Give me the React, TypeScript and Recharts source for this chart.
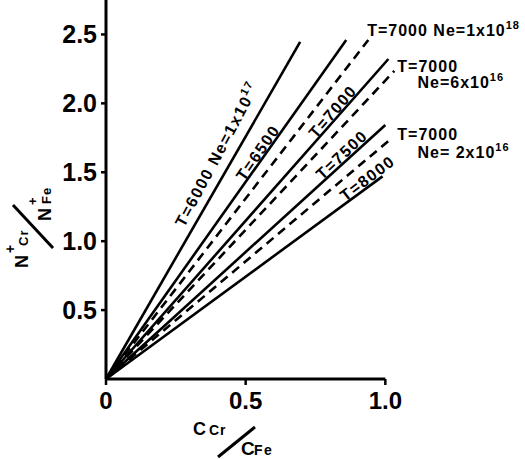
import React from 'react'
import { ComposedChart, Line, XAxis, YAxis, ReferenceDot, ReferenceLine } from 'recharts'

const FONT = '"Liberation Sans", Arial, sans-serif'

// every line starts at the origin, second point is where it ends on the plot
const t6000 = [{ x: 0, y: 0 }, { x: 0.695, y: 2.446 }]
const t6500 = [{ x: 0, y: 0 }, { x: 0.86, y: 2.46 }]
const ne1e18 = [{ x: 0, y: 0 }, { x: 0.939, y: 2.46 }]
const t7000 = [{ x: 0, y: 0 }, { x: 1.011, y: 2.322 }]
const ne6e16 = [{ x: 0, y: 0 }, { x: 1.032, y: 2.235 }]
const t7500 = [{ x: 0, y: 0 }, { x: 1.0, y: 1.843 }]
const ne2e16 = [{ x: 0, y: 0 }, { x: 1.024, y: 1.749 }]
const t8000 = [{ x: 0, y: 0 }, { x: 0.99, y: 1.47 }]

const xTicks = [0, 0.5, 1.0]
const yTicks = [0.5, 1.0, 1.5, 2.0, 2.5]

// text along the lines: [text, superscript, x, y, angle]
const slopeLabels: [string, string, number, number, number][] = [
  ['T=6000  Ne=1x10', '17', 0.28, 1.096, 62],
  ['T=6500', '', 0.495, 1.43, 55],
  ['T=7000', '', 0.752, 1.74, 49],
  ['T=7500', '', 0.774, 1.44, 43],
  ['T=8000', '', 0.857, 1.285, 37],
]

// text to the right of the dashed lines
const sideLabels: [string, string, number, number][] = [
  ['T=7000 Ne=1x10', '18', 0.935, 2.489],
  ['T=7000', '', 1.043, 2.228],
  ['Ne=6x10', '16', 1.115, 2.112],
  ['T=7000', '', 1.043, 1.734],
  ['Ne= 2x10', '16', 1.115, 1.604],
]

const solid = { stroke: '#000', strokeWidth: 2.6, dot: false, activeDot: false, isAnimationActive: false, type: 'linear' as const }
const dashed = { ...solid, strokeDasharray: '9 6' }

function XLabel(props: any) {
  const { x, y } = props.viewBox
  return (
    <g fontFamily={FONT} fontWeight="bold" fill="#000">
      <text x={x + 87} y={y + 56} fontSize={18}>C</text>
      <text x={x + 103} y={y + 56} fontSize={14} letterSpacing={1}>Cr</text>
      <line x1={x + 112} y1={y + 78} x2={x + 149} y2={y + 48} stroke="#000" strokeWidth={3} />
      <text x={x + 135} y={y + 76} fontSize={19}>C</text>
      <text x={x + 148} y={y + 76} fontSize={14} letterSpacing={1.5}>Fe</text>
    </g>
  )
}

function YLabel(props: any) {
  const { x, y } = props.viewBox
  return (
    <g fontFamily={FONT} fontWeight="bold" fill="#000">
      <g transform={`translate(${x} ${y}) rotate(-90)`}>
        <text x={-268} y={28} fontSize={18}>N</text>
        <text x={-253} y={15} fontSize={14}>+</text>
        <text x={-246} y={28} fontSize={13} letterSpacing={1}>Cr</text>
        <text x={-221} y={51} fontSize={18}>N</text>
        <text x={-205} y={37} fontSize={13}>+</text>
        <text x={-204} y={51} fontSize={13} letterSpacing={1}>Fe</text>
      </g>
      <line x1={x + 13} y1={y + 205} x2={x + 53} y2={y + 248} stroke="#000" strokeWidth={3} />
    </g>
  )
}

function labelShape(text: string, sup: string, angle: number) {
  return (p: any) => (
    <text
      x={p.cx}
      y={p.cy}
      transform={angle ? `rotate(${-angle} ${p.cx} ${p.cy})` : undefined}
      fontFamily={FONT}
      fontWeight="bold"
      fontSize={16}
      letterSpacing={angle ? 1.5 : 1}
      fill="#000"
    >
      {text}
      {sup ? <tspan dy={-7} fontSize={11}>{sup}</tspan> : null}
    </text>
  )
}

export default function App() {
  const tickStyle = { fill: '#000', fontFamily: FONT, fontWeight: 'bold' }
  return (
    <div style={{ position: 'absolute', left: 0, top: 0, background: '#fff' }}>
      <ComposedChart width={525} height={459} margin={{ top: 0, right: 0, bottom: 0, left: 0 }}>
        <XAxis
          type="number"
          dataKey="x"
          domain={[0, 1.5]}
          ticks={xTicks}
          axisLine={false}
          tickLine={{ stroke: '#000', strokeWidth: 2.5 }}
          tickSize={6}
          tickMargin={7}
          height={80}
          tick={{ ...tickStyle, fontSize: 24 }}
          tickFormatter={(v: number) => (v === 0 ? '0' : v.toFixed(1))}
          label={{ content: XLabel }}
        />
        <YAxis
          type="number"
          dataKey="y"
          domain={[0, 2.75]}
          ticks={yTicks}
          width={106}
          axisLine={{ stroke: '#000', strokeWidth: 3 }}
          tickLine={{ stroke: '#000', strokeWidth: 2.5 }}
          tickSize={5}
          tickMargin={4}
          tick={{ ...tickStyle, fontSize: 25 }}
          tickFormatter={(v: number) => v.toFixed(1)}
          label={{ content: YLabel }}
        />
        <ReferenceLine segment={[{ x: 0, y: 0 }, { x: 1.0, y: 0 }]} stroke="#000" strokeWidth={3} />
        <Line data={t6000} dataKey="y" {...solid} />
        <Line data={t6500} dataKey="y" {...solid} />
        <Line data={ne1e18} dataKey="y" {...dashed} />
        <Line data={t7000} dataKey="y" {...solid} />
        <Line data={ne6e16} dataKey="y" {...dashed} />
        <Line data={t7500} dataKey="y" {...solid} />
        <Line data={ne2e16} dataKey="y" {...dashed} />
        <Line data={t8000} dataKey="y" {...solid} />
        {slopeLabels.map(([text, sup, x, y, angle]) => (
          <ReferenceDot key={text + x} x={x} y={y} r={0} shape={labelShape(text, sup, angle)} />
        ))}
        {sideLabels.map(([text, sup, x, y]) => (
          <ReferenceDot key={text + x + y} x={x} y={y} r={0} shape={labelShape(text, sup, 0)} />
        ))}
      </ComposedChart>
    </div>
  )
}
